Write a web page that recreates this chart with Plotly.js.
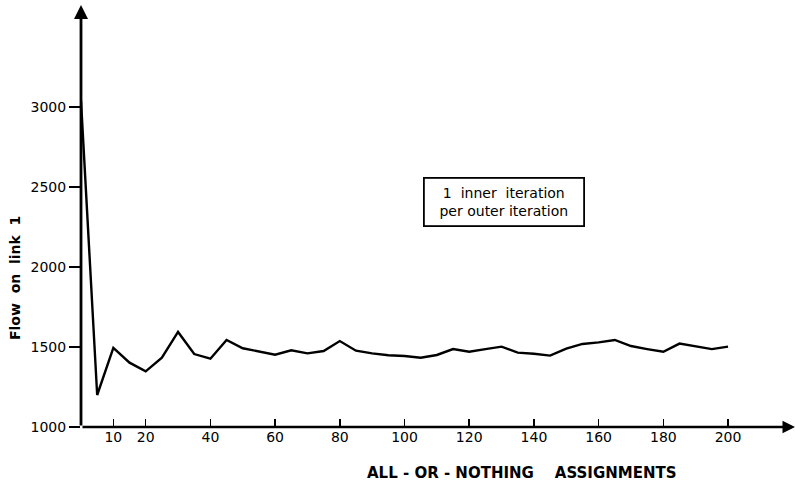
<!DOCTYPE html>
<html>
<head>
<meta charset="utf-8">
<script src="https://cdn.plot.ly/plotly-3.0.1.min.js"></script>
<style>html,body{margin:0;padding:0;background:#fff;}#chart{width:795px;height:488px;}</style>
</head>
<body>
<div id="chart"></div>
<script>
// Data
const assignments = [0, 5, 10, 15, 20, 25, 30, 35, 40, 45, 50, 55, 60, 65, 70, 75, 80, 85, 90, 95, 100,
  105, 110, 115, 120, 125, 130, 135, 140, 145, 150, 155, 160, 165, 170, 175, 180, 185, 190, 195, 200];
const flowLink1 = [3040, 1200, 1495, 1402, 1348, 1433, 1594, 1456, 1427, 1544, 1492, 1470, 1452, 1479, 1460, 1475, 1537, 1477, 1460, 1448, 1444,
  1433, 1450, 1487, 1470, 1487, 1502, 1465, 1458, 1446, 1490, 1519, 1529, 1544, 1506, 1487, 1470, 1521, 1506, 1487, 1502];
const xTickVals = [10, 20, 40, 60, 80, 100, 120, 140, 160, 180, 200];
const yTickVals = [1000, 1500, 2000, 2500, 3000];
const xTitle = "<b>ALL - OR - NOTHING &nbsp;&nbsp; ASSIGNMENTS</b>";
const yTitle = "<b>Flow &nbsp;on &nbsp;link &nbsp;1</b>";
const boxText = "1 &nbsp;inner &nbsp;iteration<br>per outer iteration";

const X_MAX = 220.7, Y_MAX = 3637;

const trace = {
  x: assignments, y: flowLink1, type: "scatter", mode: "lines",
  line: {color: "#000", width: 2.4}, hoverinfo: "skip"
};

const pw = 795 - 81, ph = 488 - 5 - 61;
const layout = {
  width: 795, height: 488,
  margin: {l: 81, r: 0, t: 5, b: 61},
  paper_bgcolor: "#fff", plot_bgcolor: "#fff",
  showlegend: false,
  font: {family: "DejaVu Sans", size: 14, color: "#000"},
  xaxis: {
    range: [0, X_MAX], showgrid: false, zeroline: false,
    showline: false, tickmode: "array", tickvals: xTickVals,
    ticks: "inside", ticklen: 8, tickwidth: 1.5, tickcolor: "#000",
    tickfont: {family: "DejaVu Sans", size: 14, color: "#000"}
  },
  yaxis: {
    range: [1000, Y_MAX], showgrid: false, zeroline: false,
    showline: false, tickmode: "array", tickvals: yTickVals,
    ticks: "outside", ticklen: 11, tickwidth: 1.5, tickcolor: "#000",
    tickfont: {family: "DejaVu Sans", size: 14, color: "#000"}
  },
  annotations: [
    {x: X_MAX, y: 1000, ax: 0, ay: 1000, axref: "x", ayref: "y", xref: "x", yref: "y",
     showarrow: true, arrowhead: 2, arrowsize: 1, arrowwidth: 2.5, arrowcolor: "#000", text: ""},
    {x: 0, y: Y_MAX, ax: 0, ay: 1000, axref: "x", ayref: "y", xref: "x", yref: "y",
     showarrow: true, arrowhead: 2, arrowsize: 1, arrowwidth: 2.8, arrowcolor: "#000", text: ""},
    {x: 130.8, y: 2406, xref: "x", yref: "y", showarrow: false, text: boxText,
     font: {family: "DejaVu Sans", size: 14, color: "#000"},
     bordercolor: "#000", borderwidth: 1.8, width: 156, height: 44, align: "center", bgcolor: "#fff"},
    {x: (522 - 81) / pw, y: (427 - 473) / ph, xref: "paper", yref: "paper",
     xanchor: "center", yanchor: "middle", showarrow: false, text: xTitle,
     font: {family: "DejaVu Sans", size: 15, color: "#000"}},
    {x: (15 - 81) / pw, y: (427 - 278) / ph, xref: "paper", yref: "paper",
     xanchor: "center", yanchor: "middle", showarrow: false, text: yTitle, textangle: -90,
     font: {family: "DejaVu Sans", size: 14, color: "#000"}}
  ]
};

Plotly.newPlot("chart", [trace], layout, {displayModeBar: false, staticPlot: true});
</script>
</body>
</html>
